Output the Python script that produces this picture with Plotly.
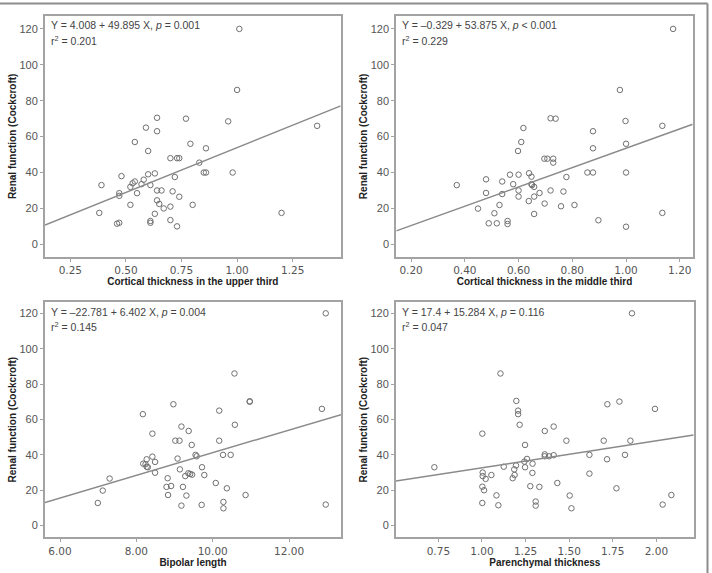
import plotly.graph_objects as go

# ---------------- data ----------------
upper_x = [1.01, 1.00, 0.96, 1.36, 0.77, 0.64, 0.59, 0.64, 0.54, 0.79, 0.86, 0.60, 0.70, 0.73, 0.74,
           0.83, 0.85, 0.86, 0.98, 0.63, 0.60, 0.72, 0.48, 0.58, 0.54, 0.53, 0.57, 0.61, 0.39, 0.52,
           0.64, 0.66, 0.71, 0.47, 0.47, 0.55, 0.74, 0.64, 0.65, 0.52, 0.80, 0.70, 0.67, 0.38, 0.63,
           1.20, 0.70, 0.61, 0.61, 0.47, 0.46, 0.73]
upper_y = [120, 86, 68.5, 66, 70, 70.5, 65, 63, 57, 56, 53.5, 52, 48, 48, 48,
           45.5, 40, 40, 40, 39.5, 39, 37.5, 38, 36, 35, 34, 33.5, 33, 33, 32,
           30, 30, 29.5, 28.5, 27, 28.5, 26.5, 24.5, 22.5, 22, 22, 21, 20, 17.5, 17,
           17.5, 13.5, 13, 12, 12, 11.5, 10]

middle_x = [1.175, 0.977, 0.719, 0.738, 0.998, 1.135, 0.618, 0.877, 0.610, 1.000, 0.877, 0.598,
            0.696, 0.707, 0.729, 0.729, 0.856, 0.877, 1.000, 0.639, 0.568, 0.600, 0.648, 0.778,
            0.479, 0.539, 0.580, 0.648, 0.370, 0.650, 0.658, 0.600, 0.719, 0.767, 0.479, 0.539,
            0.678, 0.600, 0.658, 0.638, 0.529, 0.697, 0.808, 0.758, 0.449, 0.510, 0.658, 1.135,
            0.897, 0.559, 0.559, 0.489, 0.519, 1.000]
middle_y = [120, 86, 70.2, 70, 68.7, 66, 64.8, 63, 57, 56, 53.5, 52,
            47.7, 47.7, 47.7, 45.5, 40, 40, 40, 39.6, 38.8, 38.8, 37.7, 37.5,
            36.2, 35, 33.5, 33.5, 33, 33, 32, 30, 30, 29.4, 28.6, 28,
            28.6, 26.6, 26.6, 24.1, 21.9, 22.7, 21.9, 21.2, 19.9, 17.3, 16.9, 17.5,
            13.4, 13, 11.3, 11.7, 11.7, 9.8]

bipolar_x = [12.96, 10.57, 10.97, 10.97, 8.97, 12.86, 10.17, 8.17, 10.58, 9.18, 9.37, 8.42, 9.02,
             9.13, 10.17, 9.45, 9.55, 9.58, 10.27, 10.47, 8.42, 9.08, 8.27, 8.49, 8.18, 8.24, 8.27,
             8.30, 9.72, 9.14, 8.49, 9.36, 9.41, 9.46, 9.28, 9.78, 7.30, 8.82, 10.08, 8.79, 8.91,
             9.22, 10.37, 7.12, 8.83, 9.31, 10.86, 6.99, 10.28, 9.18, 9.71, 12.96, 10.28]
bipolar_y = [120, 86, 70.3, 70, 68.6, 66, 65, 63, 57, 56, 53.5, 52, 48,
             48, 48, 45.6, 40, 39.2, 40, 40, 39, 37.9, 37.5, 36, 35, 34.7, 33.3,
             33, 33, 31.8, 29.9, 29.6, 29.2, 28.8, 28, 28.6, 26.6, 26.8, 24.1, 21.9, 22.4,
             21.9, 21.1, 19.8, 17.3, 17, 17.3, 12.8, 13.4, 11.3, 11.7, 11.9, 9.8]

paren_x = [1.86, 1.106, 1.197, 1.788, 1.719, 1.992, 1.207, 1.207, 1.216, 1.411, 1.36, 1.002, 1.484,
           1.698, 1.851, 1.247, 1.36, 1.36, 1.385, 1.411, 1.616, 1.82, 1.258, 1.243, 1.717, 1.29,
           1.195, 1.125, 1.247, 1.185, 1.187, 1.176, 1.004, 1.004, 1.021, 1.054, 1.289, 1.616,
           1.432, 1.277, 1.329, 1.002, 1.012, 1.771, 1.083, 1.503, 2.086, 1.002, 1.094, 1.308,
           1.308, 1.513, 2.036, 0.727]
paren_y = [120, 86, 70.5, 70.1, 68.6, 66, 65, 63, 57, 56, 53.5, 52, 48,
           48, 48, 45.6, 40.3, 39.2, 39.2, 39.8, 40, 40, 37.7, 36.2, 37.5, 35,
           34, 33.3, 33, 31.8, 28.6, 26.8, 30, 28, 26.4, 28.6, 29.8, 29.4,
           24.1, 22.3, 21.9, 22, 20, 21.1, 17.1, 17, 17.3, 12.8, 11.5, 13.6,
           11.3, 9.8, 11.9, 33]

x_titles = ["Cortical thickness in the upper third", "Cortical thickness in the middle third",
            "Bipolar length", "Parenchymal thickness"]
y_title = "Renal function (Cockcroft)"
intercepts = [4.008, -0.329, -22.781, 17.4]
slopes = [49.895, 53.875, 6.402, 15.284]
eq_labels = ["Y = 4.008 + 49.895 X, <i>p</i> = 0.001",
             "Y = \u20130.329 + 53.875 X, <i>p</i> < 0.001",
             "Y = \u201322.781 + 6.402 X, <i>p</i> = 0.004",
             "Y = 17.4 + 15.284 X, <i>p</i> = 0.116"]
r2_labels = ["r<sup>2</sup> = 0.201", "r<sup>2</sup> = 0.229", "r<sup>2</sup> = 0.145", "r<sup>2</sup> = 0.047"]
x_tickvals = [[0.25, 0.50, 0.75, 1.00, 1.25],
              [0.20, 0.40, 0.60, 0.80, 1.00, 1.20],
              [6, 8, 10, 12],
              [0.75, 1.00, 1.25, 1.50, 1.75, 2.00]]
y_tickvals = [0, 20, 40, 60, 80, 100, 120]

# ---------------- layout geometry ----------------
W, H = 712, 573
x_ranges = [[0.136, 1.466], [0.145, 1.248], [5.607, 13.36], [0.507, 2.214]]
y_ranges = [[-6.9, 127.2], [-6.9, 127.2], [-6.6, 126.4], [-6.6, 126.4]]
px_boxes = [(45, 340.7, 16, 256.7), (396.3, 692.7, 16, 256.7),
            (45, 341, 302, 537.3), (396, 693.7, 302, 537.3)]

xs = [upper_x, middle_x, bipolar_x, paren_x]
ys = [upper_y, middle_y, bipolar_y, paren_y]

FONT = "Liberation Sans, Arial, sans-serif"
XFONT = "DejaVu Sans, sans-serif"
fig = go.Figure()
layout = dict(width=W, height=H, margin=dict(l=0, r=0, t=0, b=0),
              paper_bgcolor="white", plot_bgcolor="white", showlegend=False,
              font=dict(family=FONT, color="#444"))
annotations = []
shapes = []

for i in range(4):
    xa = "x" if i == 0 else f"x{i+1}"
    ya = "y" if i == 0 else f"y{i+1}"
    xl = "xaxis" if i == 0 else f"xaxis{i+1}"
    yl = "yaxis" if i == 0 else f"yaxis{i+1}"
    x0, x1, y0, y1 = px_boxes[i]
    fig.add_trace(go.Scatter(x=xs[i], y=ys[i], mode="markers", xaxis=xa, yaxis=ya,
                             marker=dict(symbol="circle-open", size=5.5,
                                         color="#707070", line=dict(width=1, color="#707070"))))
    lx = x_ranges[i]
    ly = [intercepts[i] + slopes[i] * v for v in lx]
    fig.add_trace(go.Scatter(x=lx, y=ly, mode="lines", xaxis=xa, yaxis=ya,
                             line=dict(color="#8a8a8a", width=1.5)))
    common = dict(showline=True, mirror=True, linecolor="#a3a3a3", linewidth=2,
                  showgrid=False, zeroline=False, ticks="outside", ticklen=3,
                  tickcolor="#a3a3a3", tickwidth=1, automargin=False)
    layout[xl] = dict(common, domain=[x0 / W, x1 / W], range=x_ranges[i], anchor=ya,
                      tickvals=x_tickvals[i], tickformat=".2f",
                      tickfont=dict(family=XFONT, size=10.5, color="#555"),
                      title=dict(text=f"<b>{x_titles[i]}</b>", standoff=2,
                                 font=dict(family=FONT, size=10, color="#222")))
    layout[yl] = dict(common, domain=[1 - y1 / H, 1 - y0 / H], range=y_ranges[i], anchor=xa,
                      tickvals=y_tickvals,
                      tickfont=dict(family=FONT, size=11, color="#555"),
                      title=dict(text=f"<b>{y_title}</b>", standoff=1,
                                 font=dict(family=FONT, size=10, color="#222")))
    annotations.append(dict(xref=f"{xa} domain", yref=f"{ya} domain", x=0.013, y=1 - 9.5 / (y1 - y0),
                            xanchor="left", yanchor="middle", showarrow=False, text=eq_labels[i],
                            font=dict(family=FONT, size=10.5, color="#444")))
    annotations.append(dict(xref=f"{xa} domain", yref=f"{ya} domain", x=0.013, y=1 - 24.5 / (y1 - y0),
                            xanchor="left", yanchor="middle", showarrow=False, text=r2_labels[i],
                            font=dict(family=FONT, size=10.5, color="#444")))

# outer frame (top and right edges)
shapes.append(dict(type="line", xref="paper", yref="paper", x0=0, x1=707.5 / W,
                   y0=1 - 3.5 / H, y1=1 - 3.5 / H, line=dict(color="#8c8c8c", width=2)))
shapes.append(dict(type="line", xref="paper", yref="paper", x0=707.5 / W, x1=707.5 / W,
                   y0=0, y1=1 - 3.5 / H, line=dict(color="#8c8c8c", width=2)))

layout["annotations"] = annotations
layout["shapes"] = shapes
fig.update_layout(**layout)
fig.write_html("out.html")
